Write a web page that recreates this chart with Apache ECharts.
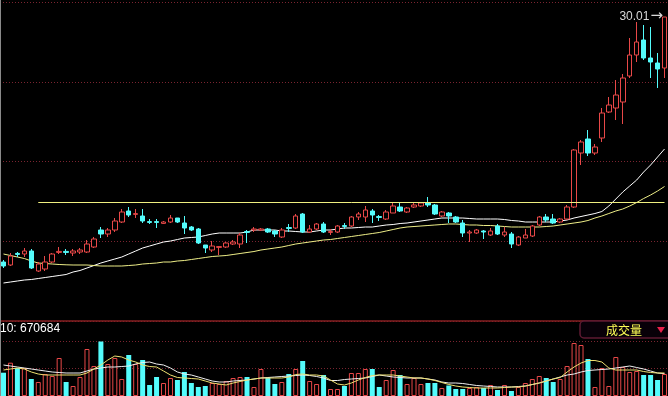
<!DOCTYPE html>
<html><head><meta charset="utf-8">
<script src="https://cdn.jsdelivr.net/npm/echarts@6/dist/echarts.min.js"></script>
<style>html,body{margin:0;padding:0;background:#000;}#c{width:668px;height:396px;}</style>
</head><body><div id="c"></div>
<script>
// ---- data ----
const open = [17.76,17.61,18.19,18.16,18.31,17.31,17.41,17.76,18.24,18.29,
18.21,18.26,18.26,18.51,19.36,19.16,19.36,19.76,20.31,20.14,
20.06,19.78,19.78,19.69,19.76,19.96,19.71,19.51,19.41,18.61,
18.36,18.49,18.51,18.66,18.66,19.28,19.36,19.36,19.41,19.31,
19.01,19.48,19.46,20.16,19.26,19.41,19.66,19.24,19.26,19.58,
19.56,20.01,20.01,20.31,20.03,19.91,20.21,20.51,20.26,20.51,
20.56,20.71,20.61,20.06,20.21,20.01,19.71,19.21,19.21,19.31,
19.11,19.56,19.11,19.16,18.61,18.96,19.06,19.61,20.01,19.91,
19.76,19.91,20.51,23.21,23.91,23.21,23.96,25.26,25.46,25.76,
27.06,28.11,28.86,27.96,27.71,27.46];
const close = [17.56,18.06,18.14,18.31,17.46,17.66,17.76,18.16,18.29,18.24,
18.31,18.36,18.66,18.91,19.16,19.36,19.81,20.26,20.11,20.18,
19.81,19.74,19.74,19.76,19.96,19.76,19.46,19.36,18.71,18.46,
18.56,18.53,18.71,18.76,19.11,19.24,19.41,19.41,19.26,19.16,
19.36,19.44,20.06,19.26,19.41,19.66,19.26,19.28,19.56,19.54,
20.01,20.16,20.36,20.11,19.99,20.26,20.56,20.31,20.46,20.61,
20.71,20.61,20.16,20.26,20.06,19.76,19.21,19.26,19.36,19.26,
19.31,19.16,19.26,18.66,19.01,19.11,19.56,20.01,19.86,19.71,
19.91,20.51,23.36,23.76,23.21,23.51,25.21,25.61,26.11,26.96,
28.11,28.76,27.96,27.76,27.41,30.01];
const low = [17.46,17.56,18.01,18.01,17.41,17.26,17.31,17.71,18.16,18.11,
18.06,18.16,18.21,18.46,18.96,19.01,19.26,19.71,20.01,19.96,
19.71,19.66,19.46,19.66,19.71,19.71,19.16,19.31,18.66,18.21,
18.26,18.11,18.46,18.61,18.46,18.71,19.26,19.31,19.21,19.01,
18.96,19.26,19.41,19.21,19.21,19.36,19.21,19.11,19.21,19.41,
19.51,19.86,19.76,19.71,19.81,19.86,20.21,20.26,20.21,20.46,
20.51,20.51,20.11,20.01,19.71,19.71,19.01,18.76,19.16,18.91,
19.06,19.11,19.01,18.46,18.56,18.96,19.01,19.56,19.76,19.66,
19.71,19.86,20.46,22.61,23.06,23.11,23.76,25.21,24.86,24.66,
26.96,27.76,27.86,26.96,26.46,26.96];
const high = [17.86,18.21,18.26,18.46,18.41,17.76,18.06,18.21,18.51,18.41,
18.41,18.46,18.86,19.01,19.51,19.46,19.96,20.41,20.51,20.41,
20.41,19.91,19.91,19.81,20.11,19.96,20.06,19.56,19.46,18.61,
18.81,18.56,18.76,18.86,19.21,19.36,19.51,19.46,19.46,19.36,
19.46,19.66,20.16,20.21,19.61,19.71,19.76,19.41,19.61,19.71,
20.06,20.26,20.56,20.41,20.11,20.36,20.76,20.71,20.51,20.71,
20.76,21.01,20.66,20.31,20.26,20.06,19.86,19.36,19.41,19.36,
19.46,19.66,19.51,19.26,19.06,19.41,19.61,20.06,20.16,20.16,
19.96,20.61,23.41,23.86,24.36,23.66,25.46,26.01,26.86,27.16,
28.96,29.76,29.61,29.51,28.21,30.01];
const maWhite = [16.71,16.76,16.81,16.86,16.885,16.935,16.985,17.035,17.085,17.135,
17.26,17.335,17.46,17.585,17.71,17.81,17.91,18.01,18.16,18.31,
18.46,18.56,18.66,18.76,18.81,18.885,18.96,18.985,19.01,19.085,
19.16,19.21,19.21,19.21,19.21,19.26,19.36,19.36,19.36,19.36,
19.31,19.31,19.285,19.26,19.26,19.31,19.36,19.36,19.41,19.46,
19.46,19.485,19.51,19.51,19.56,19.61,19.635,19.685,19.71,19.76,
19.81,19.86,19.91,19.96,19.96,19.96,19.96,19.935,19.91,19.91,
19.91,19.91,19.885,19.835,19.81,19.76,19.76,19.76,19.76,19.76,
19.81,19.86,19.96,20.035,20.11,20.185,20.285,20.56,20.91,21.26,
21.56,21.86,22.26,22.61,23.01,23.41];
const maYellow = [18.16,18.085,18.01,17.935,17.81,17.71,17.685,17.66,17.635,17.62,
17.61,17.61,17.61,17.585,17.56,17.56,17.56,17.56,17.585,17.61,
17.66,17.685,17.71,17.76,17.76,17.81,17.835,17.885,17.935,17.985,
18.035,18.06,18.085,18.135,18.185,18.235,18.285,18.36,18.41,18.46,
18.51,18.585,18.66,18.71,18.76,18.81,18.86,18.885,18.935,18.985,
19.035,19.085,19.135,19.185,19.235,19.31,19.385,19.46,19.51,19.535,
19.56,19.585,19.61,19.635,19.66,19.66,19.635,19.61,19.61,19.585,
19.585,19.56,19.535,19.51,19.51,19.51,19.51,19.51,19.535,19.56,
19.61,19.66,19.71,19.76,19.835,19.96,20.06,20.185,20.31,20.41,
20.56,20.735,20.935,21.11,21.31,21.535];
const hLine = 20.75;      // horizontal reference line
const hLineFrom = 5;      // index where that line starts
const volume = [699000,999000,840000,840000,510000,420000,660000,600000,1140000,420000,
300000,570000,1410000,900000,1635000,960000,1140000,510000,1230000,960000,
1080000,330000,570000,390000,540000,480000,720000,390000,270000,300000,
390000,360000,450000,540000,570000,570000,270000,810000,540000,360000,
420000,660000,810000,1050000,450000,360000,630000,210000,210000,300000,
690000,690000,810000,810000,270000,480000,780000,630000,360000,540000,
360000,390000,390000,240000,315000,210000,210000,240000,270000,240000,
330000,180000,330000,150000,270000,390000,510000,600000,540000,420000,
510000,900000,1590000,1530000,1110000,270000,840000,300000,1170000,870000,
720000,750000,630000,630000,480000,660000];
const volMaWhite = [930000,900000,870000,840000,810000,780000,750000,720000,705000,690000,
690000,690000,750000,810000,840000,870000,870000,885000,900000,960000,
1005000,1020000,960000,930000,840000,720000,660000,630000,570000,510000,
450000,420000,420000,450000,465000,480000,510000,540000,555000,570000,
585000,600000,615000,630000,615000,585000,540000,465000,465000,495000,
510000,525000,540000,585000,630000,600000,570000,555000,540000,540000,
540000,510000,480000,420000,390000,390000,375000,345000,315000,300000,
285000,270000,270000,270000,285000,300000,345000,390000,450000,510000,
570000,630000,660000,720000,765000,780000,795000,810000,840000,870000,
900000,855000,810000,750000,690000,670684];
const volMaYellow = [780000,810000,840000,810000,720000,660000,630000,630000,630000,630000,
630000,630000,690000,810000,930000,1080000,1200000,1170000,1080000,1020000,
930000,885000,870000,750000,630000,555000,540000,525000,510000,450000,
390000,360000,330000,390000,435000,480000,510000,540000,540000,540000,
540000,570000,645000,660000,630000,630000,600000,480000,360000,330000,
390000,480000,555000,615000,630000,630000,630000,600000,570000,540000,
540000,510000,465000,405000,345000,300000,270000,255000,240000,240000,
240000,240000,255000,270000,270000,300000,345000,390000,450000,510000,
555000,720000,870000,990000,1065000,1065000,1020000,840000,780000,780000,
780000,780000,735000,705000,690000,690000];
const volLabel = '10: 670684';
const volTitle = '成交量';
const categories = open.map((_, i) => 'D' + (i + 1));

// ---- styles ----
const RED = '#e84848', CYAN = '#54fcfc', GRIDC = '#7a2430';

const kData = open.map((o, i) => [o, close[i], low[i], high[i]]);
const volData = volume.map((v, i) => ({
  value: v,
  itemStyle: close[i] >= open[i]
    ? { color: '#000', borderColor: RED, borderWidth: 1 }
    : { color: CYAN, borderColor: CYAN, borderWidth: 0 }
}));

const chart = echarts.init(document.getElementById('c'), null, { renderer: 'canvas' });
const hidden = { axisLine: { show: false }, axisTick: { show: false }, axisLabel: { show: false }, splitLine: { show: false } };
chart.setOption({
  backgroundColor: '#000',
  animation: false,
  grid: [
    { left: -3.2, width: 672, top: 2, height: 319 },
    { left: -3.2, width: 672, top: 341, height: 55 }
  ],
  xAxis: [
    { type: 'category', data: categories, gridIndex: 0, boundaryGap: true,
      axisLine: { show: true, onZero: false, lineStyle: { color: '#861f22', width: 1.5 } },
      axisTick: { show: false }, axisLabel: { show: false }, splitLine: { show: false } },
    Object.assign({ type: 'category', data: categories, gridIndex: 1, boundaryGap: true }, hidden)
  ],
  yAxis: [
    Object.assign({ type: 'value', gridIndex: 0, min: 14.81, max: 30.76 }, hidden),
    { type: 'value', gridIndex: 0, min: 0, max: 4, interval: 1,
      axisLine: { show: false }, axisTick: { show: false }, axisLabel: { show: false },
      splitLine: { show: true, lineStyle: { color: GRIDC, type: [1, 2], width: 1 } } },
    { type: 'value', gridIndex: 1, min: 0, max: 1650000, interval: 825000,
      axisLine: { show: false }, axisTick: { show: false }, axisLabel: { show: false },
      splitLine: { show: true, lineStyle: { color: GRIDC, type: [1, 2], width: 1 } } }
  ],
  series: [
    { type: 'line', xAxisIndex: 0, yAxisIndex: 0, data: maWhite, symbol: 'none', silent: true,
      lineStyle: { color: '#ffffff', width: 1 }, z: 2 },
    { type: 'line', xAxisIndex: 0, yAxisIndex: 0, data: maYellow, symbol: 'none', silent: true,
      lineStyle: { color: '#eeee88', width: 1 }, z: 2 },
    { type: 'candlestick', xAxisIndex: 0, yAxisIndex: 0, data: kData, barWidth: 5, z: 3,
      itemStyle: { color: '#000', color0: CYAN, borderColor: RED, borderColor0: CYAN, borderWidth: 1 },
      markLine: { symbol: 'none', silent: true, label: { show: false },
        lineStyle: { color: '#f0f080', type: 'solid', width: 1 },
        data: [[{ coord: [categories[hLineFrom], hLine] }, { coord: [categories[categories.length - 1], hLine] }]] },
      markPoint: { symbol: 'circle', symbolSize: 1, itemStyle: { color: 'rgba(0,0,0,0)' },
        label: { show: true, position: 'left', distance: 1,
          formatter: p => '{n|' + Number(p.value).toFixed(2) + '}{a|→}',
          rich: {
            n: { color: '#d8d8d8', fontSize: 12, fontFamily: 'Liberation Sans, Arial, sans-serif' },
            a: { color: '#d8d8d8', fontSize: 15, fontFamily: 'DejaVu Sans, sans-serif', padding: [0, 0, 2, 1] }
          } },
        data: [{ type: 'max', valueDim: 'highest' }] } },
    { type: 'bar', xAxisIndex: 1, yAxisIndex: 2, data: volData, barWidth: 5, z: 2 },
    { type: 'line', xAxisIndex: 1, yAxisIndex: 2, data: volMaWhite, symbol: 'none', silent: true,
      lineStyle: { color: '#f0f0f0', width: 1 }, z: 3 },
    { type: 'line', xAxisIndex: 1, yAxisIndex: 2, data: volMaYellow, symbol: 'none', silent: true,
      lineStyle: { color: '#eee070', width: 1 }, z: 3 }
  ],
  graphic: [
    { type: 'line', shape: { x1: 0.5, y1: 0, x2: 0.5, y2: 396 }, style: { stroke: '#8a8a8a', lineWidth: 1 }, z: 10 },
    { type: 'text', left: 0, top: 323, style: { text: volLabel, fill: '#ffffff', font: '12px "Liberation Sans", Arial, sans-serif' }, z: 10 },
    { type: 'rect', shape: { x: 580, y: 321, width: 96, height: 17, r: 4 },
      style: { fill: '#080008', stroke: '#5e1a32', lineWidth: 1.5 }, z: 10 },
    { type: 'text', x: 624, y: 330, style: { text: volTitle, fill: '#ffff55', font: '12px "Noto Sans CJK SC", sans-serif', textAlign: 'center', textVerticalAlign: 'middle' }, z: 11 },
    { type: 'polygon', shape: { points: [[657, 327], [665, 327], [661, 333]] }, style: { fill: '#e8204a' }, z: 11 }
  ]
});
</script></body></html>
